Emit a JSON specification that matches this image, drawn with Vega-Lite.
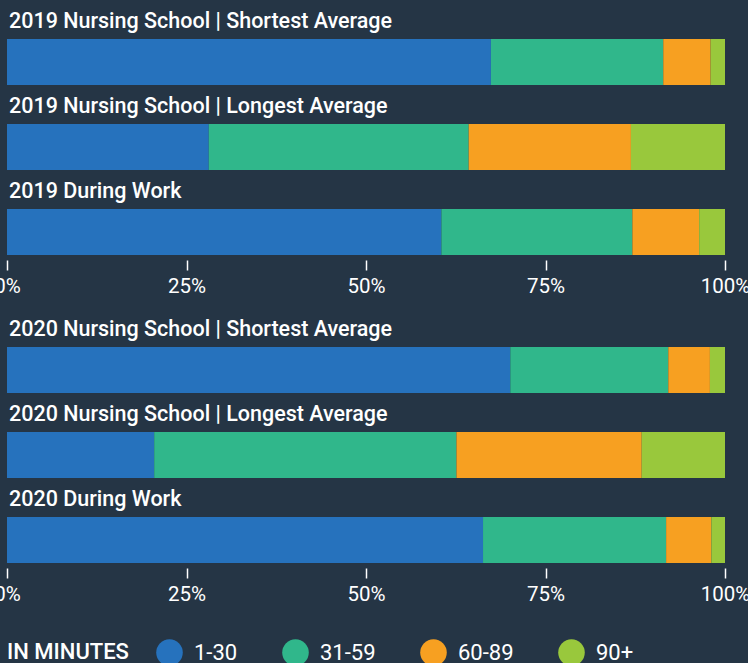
{
  "$schema": "https://vega.github.io/schema/vega-lite/v6.json",
  "background": "#253545",
  "padding": {"top": 10, "left": -7, "right": 0, "bottom": 0},
  "config": {
    "font": "Roboto",
    "view": {"stroke": null},
    "concat": {"spacing": 82},
    "axis": {"domain": false, "grid": false, "tickColor": "#ffffff", "tickSize": 10, "tickWidth": 1.5, "labelColor": "#ffffff", "labelFontSize": 20.5, "labelPadding": 6, "labelFlush": false, "labelOverlap": false, "labelBound": false, "title": null},
    "legend": {"orient": "bottom", "direction": "horizontal", "titleOrient": "left", "titleFontSize": 22, "titleFontWeight": 500, "titleColor": "#ffffff", "titlePadding": 27, "labelColor": "#ffffff", "labelFontSize": 22, "labelOffset": 11, "columnPadding": 44, "symbolType": "circle", "symbolSize": 707, "symbolStrokeWidth": 0, "symbolOpacity": 1, "offset": 34}
  },
  "bounds": "flush",
  "datasets": {
    "commute": [
      {"year": 2019, "label": "2019 Nursing School | Shortest Average", "cat": "1-30", "value": 67.4},
      {"year": 2019, "label": "2019 Nursing School | Shortest Average", "cat": "31-59", "value": 24.0},
      {"year": 2019, "label": "2019 Nursing School | Shortest Average", "cat": "60-89", "value": 6.6},
      {"year": 2019, "label": "2019 Nursing School | Shortest Average", "cat": "90+", "value": 2.0},
      {"year": 2019, "label": "2019 Nursing School | Longest Average", "cat": "1-30", "value": 28.1},
      {"year": 2019, "label": "2019 Nursing School | Longest Average", "cat": "31-59", "value": 36.2},
      {"year": 2019, "label": "2019 Nursing School | Longest Average", "cat": "60-89", "value": 22.6},
      {"year": 2019, "label": "2019 Nursing School | Longest Average", "cat": "90+", "value": 13.1},
      {"year": 2019, "label": "2019 During Work", "cat": "1-30", "value": 60.5},
      {"year": 2019, "label": "2019 During Work", "cat": "31-59", "value": 26.6},
      {"year": 2019, "label": "2019 During Work", "cat": "60-89", "value": 9.3},
      {"year": 2019, "label": "2019 During Work", "cat": "90+", "value": 3.6},
      {"year": 2020, "label": "2020 Nursing School | Shortest Average", "cat": "1-30", "value": 70.1},
      {"year": 2020, "label": "2020 Nursing School | Shortest Average", "cat": "31-59", "value": 22.0},
      {"year": 2020, "label": "2020 Nursing School | Shortest Average", "cat": "60-89", "value": 5.8},
      {"year": 2020, "label": "2020 Nursing School | Shortest Average", "cat": "90+", "value": 2.1},
      {"year": 2020, "label": "2020 Nursing School | Longest Average", "cat": "1-30", "value": 20.5},
      {"year": 2020, "label": "2020 Nursing School | Longest Average", "cat": "31-59", "value": 42.1},
      {"year": 2020, "label": "2020 Nursing School | Longest Average", "cat": "60-89", "value": 25.8},
      {"year": 2020, "label": "2020 Nursing School | Longest Average", "cat": "90+", "value": 11.6},
      {"year": 2020, "label": "2020 During Work", "cat": "1-30", "value": 66.3},
      {"year": 2020, "label": "2020 During Work", "cat": "31-59", "value": 25.5},
      {"year": 2020, "label": "2020 During Work", "cat": "60-89", "value": 6.3},
      {"year": 2020, "label": "2020 During Work", "cat": "90+", "value": 1.9}
    ]
  },
  "data": {"name": "commute"},
  "vconcat": [
    {
      "width": 718,
      "height": 226,
      "transform": [{"filter": "datum.year == 2019"}],
      "encoding": {
        "y": {"field": "label", "type": "nominal", "sort": null, "axis": null, "scale": {"paddingInner": 0.4588, "paddingOuter": 0.0588}}
      },
      "layer": [
        {
          "mark": {"type": "bar"},
          "encoding": {
            "x": {"field": "value", "type": "quantitative", "stack": "normalize", "scale": {"domain": [0, 1], "nice": false}, "axis": {"values": [0, 0.25, 0.5, 0.75, 1], "format": ".0%"}},
            "color": {"field": "cat", "type": "nominal", "title": "IN MINUTES", "scale": {"domain": ["1-30", "31-59", "60-89", "90+"], "range": ["#2672bd", "#30b78b", "#f7a021", "#99c83c"]}}
          }
        },
        {
          "transform": [{"filter": "datum.cat == '1-30'"}],
          "mark": {"type": "text", "align": "left", "baseline": "alphabetic", "dx": 2, "dy": -34, "fontSize": 21.5, "fontWeight": 500, "color": "#ffffff"},
          "encoding": {"x": {"datum": 0}, "text": {"field": "label"}}
        }
      ]
    },
    {
      "width": 718,
      "height": 226,
      "transform": [{"filter": "datum.year == 2020"}],
      "encoding": {
        "y": {"field": "label", "type": "nominal", "sort": null, "axis": null, "scale": {"paddingInner": 0.4588, "paddingOuter": 0.0588}}
      },
      "layer": [
        {
          "mark": {"type": "bar"},
          "encoding": {
            "x": {"field": "value", "type": "quantitative", "stack": "normalize", "scale": {"domain": [0, 1], "nice": false}, "axis": {"values": [0, 0.25, 0.5, 0.75, 1], "format": ".0%"}},
            "color": {"field": "cat", "type": "nominal", "title": "IN MINUTES", "scale": {"domain": ["1-30", "31-59", "60-89", "90+"], "range": ["#2672bd", "#30b78b", "#f7a021", "#99c83c"]}}
          }
        },
        {
          "transform": [{"filter": "datum.cat == '1-30'"}],
          "mark": {"type": "text", "align": "left", "baseline": "alphabetic", "dx": 2, "dy": -34, "fontSize": 21.5, "fontWeight": 500, "color": "#ffffff"},
          "encoding": {"x": {"datum": 0}, "text": {"field": "label"}}
        }
      ]
    }
  ],
  "resolve": {"scale": {"x": "independent", "y": "independent"}}
}
